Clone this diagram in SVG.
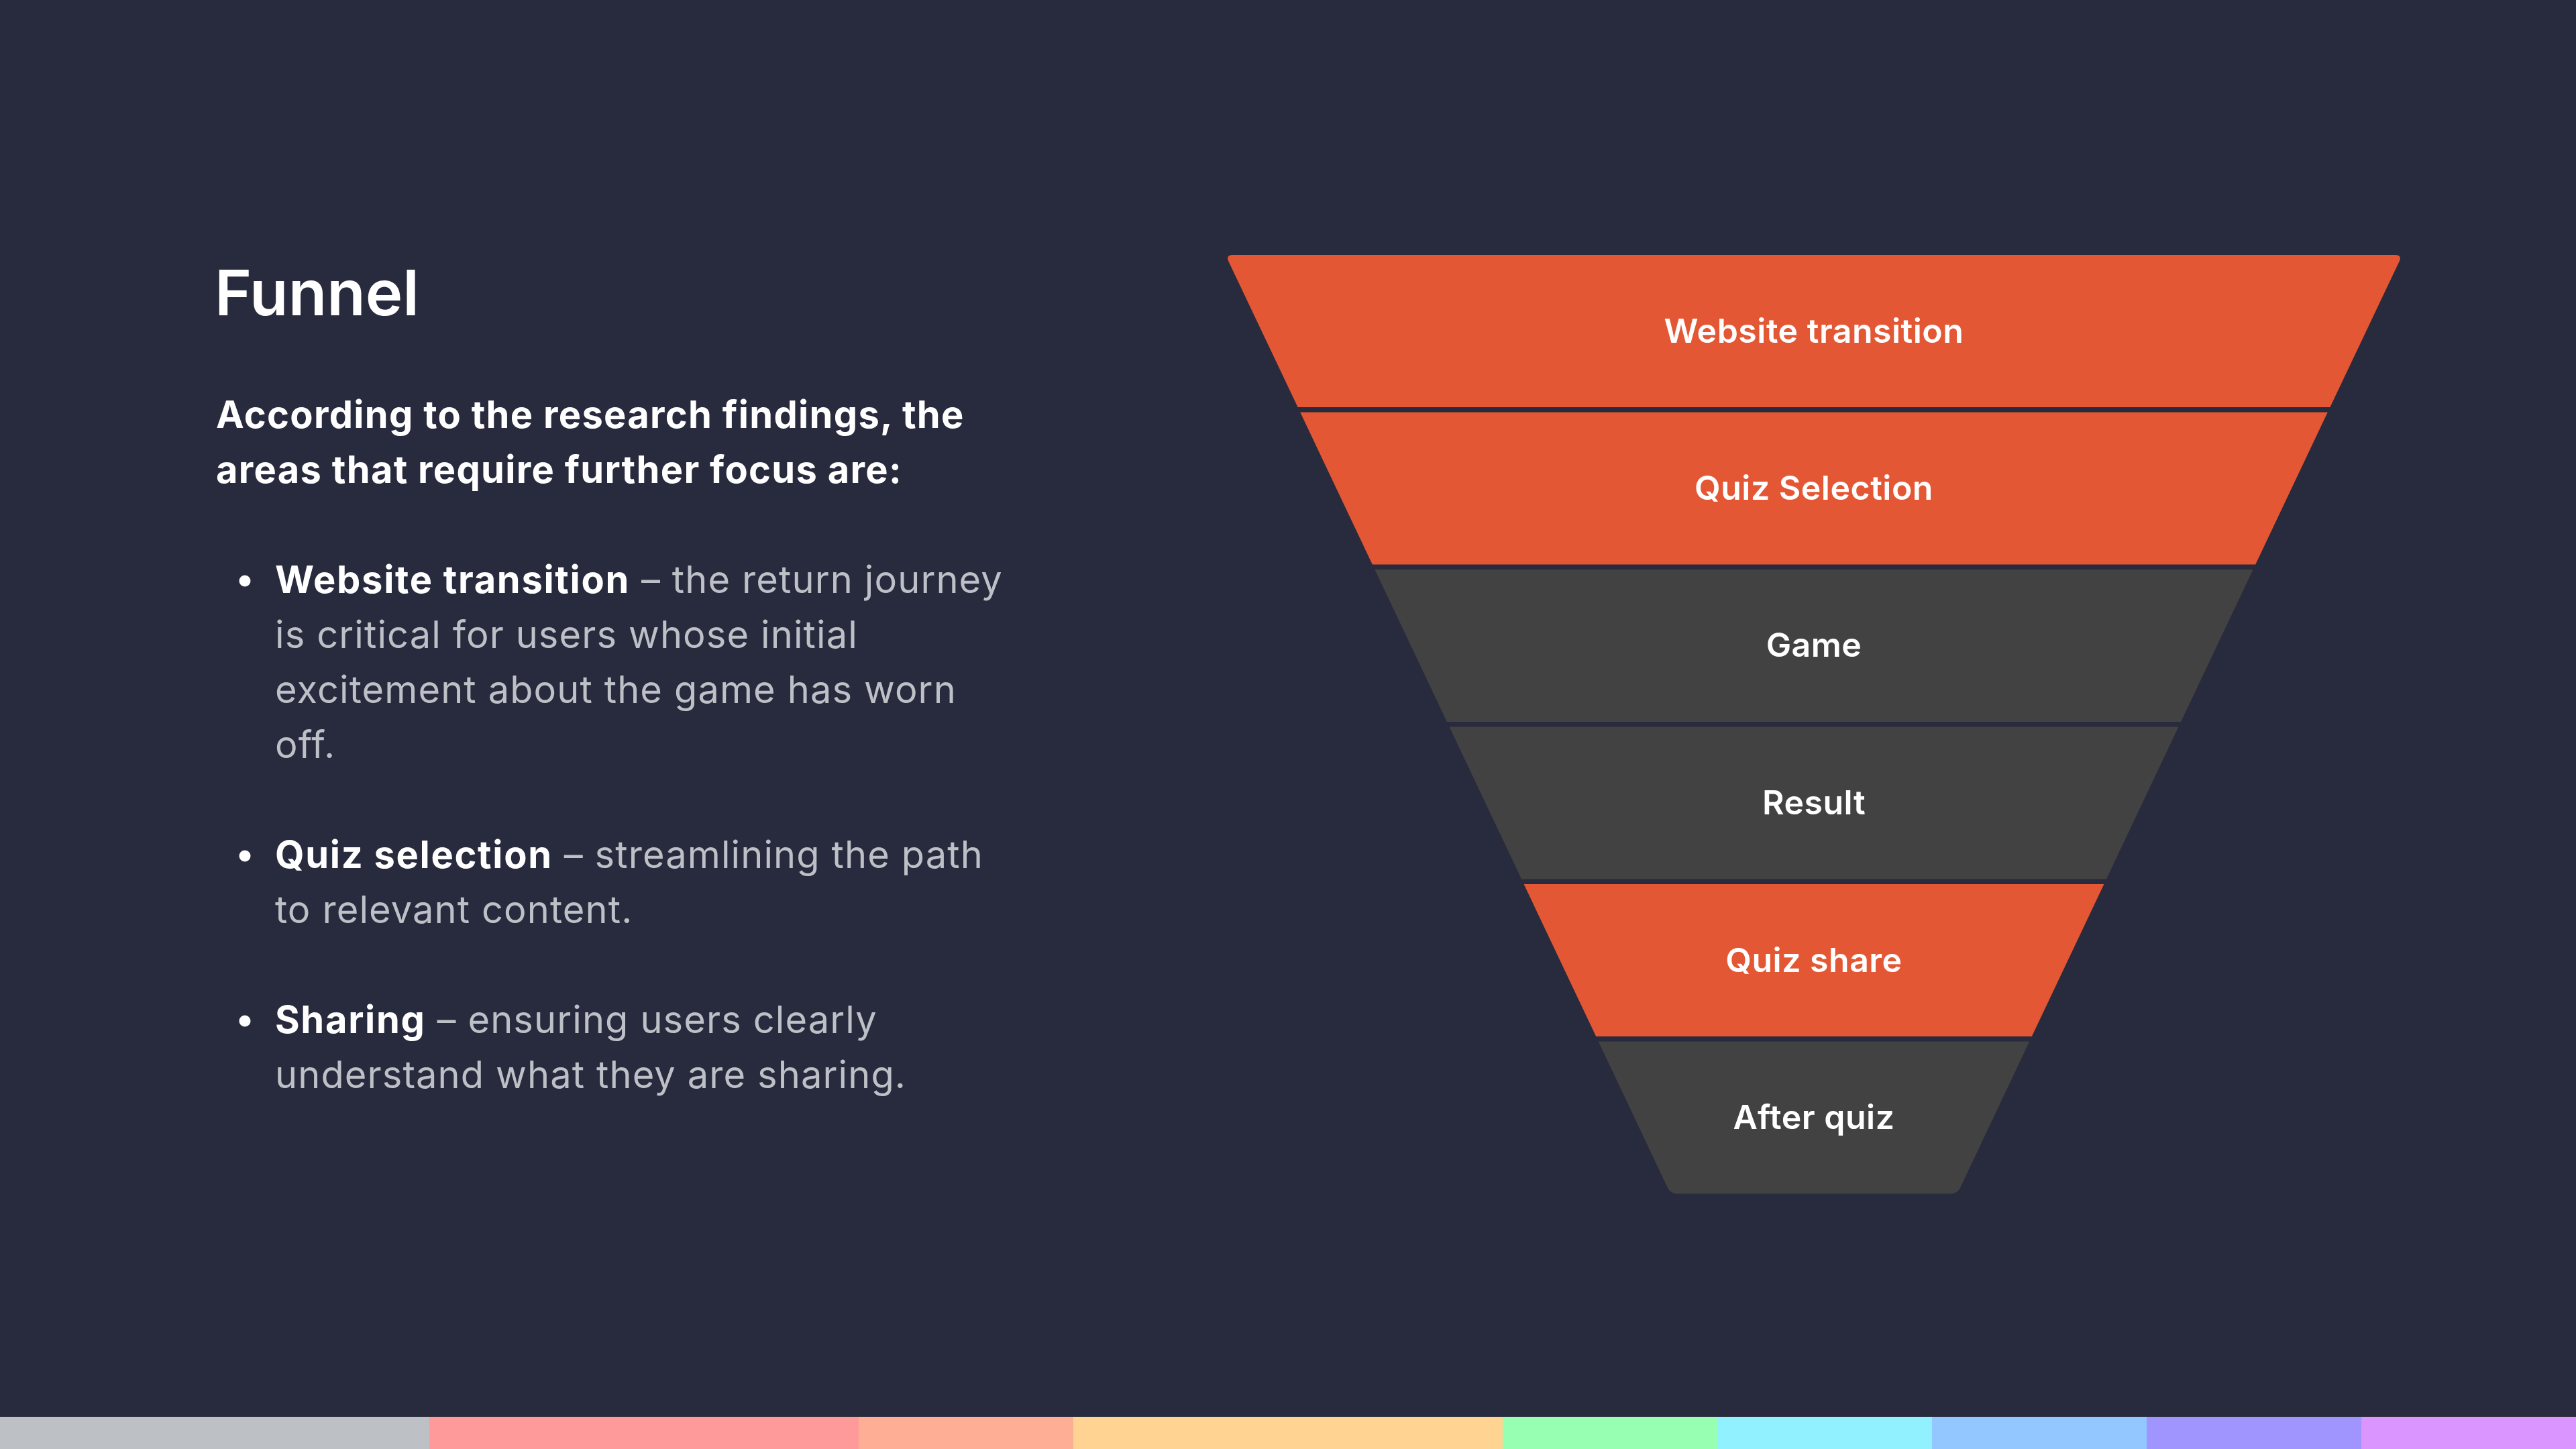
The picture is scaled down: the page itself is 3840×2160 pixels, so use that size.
<svg xmlns="http://www.w3.org/2000/svg" width="3840" height="2160" viewBox="0 0 3840 2160">
<style>
.bg{fill:#282A3D}
.or{fill:#E45734}
.gr{fill:#424242}
.lbl{font-family:Inter,"DejaVu Sans",sans-serif;font-size:50px;font-weight:600;letter-spacing:0.5px;fill:#FFFFFF;text-anchor:middle}
.title{font-family:Inter,"DejaVu Sans",sans-serif;font-size:94px;font-weight:600;fill:#FFFFFF}
.lead{font-family:Inter,"DejaVu Sans",sans-serif;font-size:56px;font-weight:700;letter-spacing:1.3px;fill:#FFFFFF}
.body{font-family:Inter,"DejaVu Sans",sans-serif;font-size:56px;font-weight:400;letter-spacing:1.1px;fill:#BDC0C6}
.b{font-weight:700;letter-spacing:1.7px;fill:#FFFFFF}
.dot{fill:#FFFFFF}
</style>
<rect class="bg" x="0" y="0" width="3840" height="2160"/>

<g id="text-panel">
  <text class="title" x="320" y="470">Funnel</text>
  <text class="lead" x="322" y="638">According to the research findings, the</text>
  <text class="lead" x="322" y="720">areas that require further focus are:</text>

  <circle class="dot" cx="365" cy="866" r="8.5"/>
  <text class="body" x="410" y="884"><tspan class="b">Website transition</tspan> – the return journey</text>
  <text class="body" x="410" y="966">is critical for users whose initial</text>
  <text class="body" x="410" y="1048">excitement about the game has worn</text>
  <text class="body" x="410" y="1130">off.</text>

  <circle class="dot" cx="365" cy="1276" r="8.5"/>
  <text class="body" x="410" y="1294"><tspan class="b">Quiz selection</tspan> – streamlining the path</text>
  <text class="body" x="410" y="1376">to relevant content.</text>

  <circle class="dot" cx="365" cy="1522" r="8.5"/>
  <text class="body" x="410" y="1540"><tspan class="b">Sharing</tspan> – ensuring users clearly</text>
  <text class="body" x="410" y="1622">understand what they are sharing.</text>
</g>

<g id="funnel">
  <g id="stage-website-transition">
    <path class="or" d="M1838,380 L3570,380 Q3581,380 3576.7,389.5 L3473.4,607 L1934.6,607 L1831.3,389.5 Q1827,380 1838,380 Z"/>
    <text class="lbl" x="2704" y="511">Website transition</text>
  </g>
  <g id="stage-quiz-selection">
    <path class="or" d="M1938.2,614.5 L3469.8,614.5 L3362.2,841.5 L2045.8,841.5 Z"/>
    <text class="lbl" x="2704" y="745">Quiz Selection</text>
  </g>
  <g id="stage-game">
    <path class="gr" d="M2049.3,849 L3358.7,849 L3251.1,1076 L2156.9,1076 Z"/>
    <text class="lbl" x="2704" y="979">Game</text>
  </g>
  <g id="stage-result">
    <path class="gr" d="M2160.5,1083.5 L3247.5,1083.5 L3139.9,1310.5 L2268.1,1310.5 Z"/>
    <text class="lbl" x="2704" y="1214">Result</text>
  </g>
  <g id="stage-quiz-share">
    <path class="or" d="M2271.6,1318 L3136.4,1318 L3028.8,1545 L2379.2,1545 Z"/>
    <text class="lbl" x="2704" y="1449">Quiz share</text>
  </g>
  <g id="stage-after-quiz">
    <path class="gr" d="M2382.7,1552.5 L3025.3,1552.5 L2922.2,1770.5 Q2917.9,1779.5 2907.9,1779.5 L2500.1,1779.5 Q2490.1,1779.5 2485.8,1770.5 Z"/>
    <text class="lbl" x="2704" y="1683">After quiz</text>
  </g>
</g>

<g id="connectors"></g>

<g id="color-bar">
  <rect x="0" y="2112" width="640" height="48" fill="#BDC0C4"/>
  <rect x="640" y="2112" width="640" height="48" fill="#FF9A9B"/>
  <rect x="1280" y="2112" width="320" height="48" fill="#FFAE96"/>
  <rect x="1600" y="2112" width="640" height="48" fill="#FFD391"/>
  <rect x="2240" y="2112" width="320" height="48" fill="#96FFB1"/>
  <rect x="2560" y="2112" width="320" height="48" fill="#92F1FF"/>
  <rect x="2880" y="2112" width="320" height="48" fill="#93C7FF"/>
  <rect x="3200" y="2112" width="320" height="48" fill="#A095FF"/>
  <rect x="3520" y="2112" width="320" height="48" fill="#DA95FF"/>
</g>
</svg>
